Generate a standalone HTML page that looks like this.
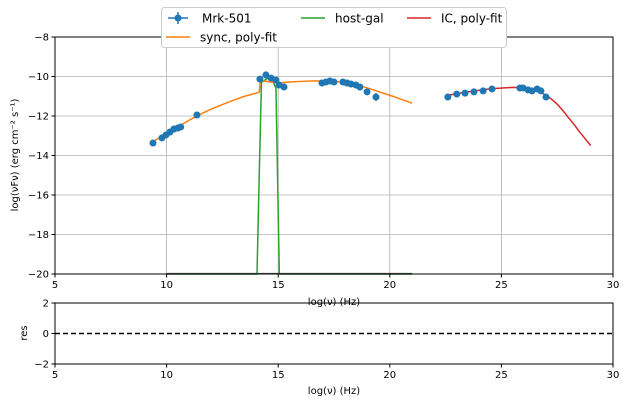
<!DOCTYPE html>
<html><head><meta charset="utf-8"><style>
body{margin:0;background:#fff;font-family:"Liberation Sans","DejaVu Sans",sans-serif}
svg text{font-family:"DejaVu Sans","Liberation Sans",sans-serif;font-size:10px;fill:#000}
</style></head><body>
<svg id="c" width="626" height="405"></svg>
<script>
const dataX=[9.39,9.79,9.97,10.15,10.33,10.5,10.63,11.36,14.18,14.45,14.68,14.9,15.04,15.26,16.96,17.14,17.32,17.5,17.9,18.08,18.26,18.48,18.66,18.98,19.38,22.6,23.0,23.37,23.77,24.18,24.58,25.83,25.97,26.19,26.37,26.6,26.77,27.0];
const dataY=[-13.37,-13.11,-12.96,-12.81,-12.66,-12.61,-12.56,-11.95,-10.13,-9.92,-10.08,-10.18,-10.43,-10.53,-10.33,-10.28,-10.23,-10.28,-10.28,-10.33,-10.38,-10.43,-10.53,-10.78,-11.04,-11.04,-10.89,-10.84,-10.78,-10.73,-10.63,-10.58,-10.58,-10.68,-10.73,-10.63,-10.73,-11.04];
const dataErr=[0.05,0.05,0.05,0.05,0.05,0.05,0.05,0.05,0.05,0.05,0.05,0.05,0.05,0.05,0.05,0.05,0.05,0.05,0.05,0.05,0.05,0.08,0.08,0.1,0.2,0.1,0.05,0.05,0.05,0.05,0.05,0.05,0.05,0.05,0.05,0.05,0.05,0.05];
const syncX=[9.4,9.7,10,10.5,11,11.5,12,12.5,13,13.5,14.15,14.2,15,15.5,16,16.5,17,17.5,18,18.5,19,19.5,20,20.5,21];
const syncY=[-13.3,-13.08,-12.88,-12.55,-12.22,-11.92,-11.65,-11.42,-11.2,-11.0,-10.8,-10.2,-10.33,-10.28,-10.25,-10.23,-10.22,-10.24,-10.3,-10.42,-10.58,-10.77,-10.95,-11.15,-11.35];
const hostX=[10,14.05,14.15,14.25,14.5,14.75,14.9,14.97,15.05,21];
const hostY=[-20,-20,-15,-10.3,-10.1,-10.2,-10.6,-15,-20,-20];
const icX=[22.6,23.5,24.5,25.5,26,26.5,27,27.25,27.5,27.75,28,28.25,28.5,28.75,29];
const icY=[-10.95,-10.78,-10.62,-10.55,-10.57,-10.65,-10.95,-11.15,-11.4,-11.72,-12.08,-12.42,-12.8,-13.15,-13.5];
const xTicks=[5,10,15,20,25,30];
const yTicks=[-8,-10,-12,-14,-16,-18,-20];
const rTicks=[2,0,-2];

const NS="http://www.w3.org/2000/svg",svg=document.getElementById('c');
function el(t,a,p){const e=document.createElementNS(NS,t);for(const k in a)e.setAttribute(k,a[k]);(p||svg).appendChild(e);return e;}
const L=55,R=613,T=37,B=274,RT=303,RB=364;
const sx=x=>L+(x-5)/25*(R-L);
const sy=y=>T+(-8-y)/12*(B-T);
const sr=y=>RT+(2-y)/4*(RB-RT);
for(const t of xTicks){if(t>5&&t<30){const g=el('line',{x1:sx(t),x2:sx(t),y1:T,y2:B,stroke:'#b0b0b0','stroke-width':0.8});}}
for(const t of yTicks){if(t>-20&&t<-8){const g=el('line',{x1:L,x2:R,y1:sy(t),y2:sy(t),stroke:'#b0b0b0','stroke-width':0.8});}}
function line(xs,ys,col,name,w){const p=el('polyline',{points:xs.map((x,i)=>sx(x)+','+sy(ys[i])).join(' '),fill:'none',stroke:col,'stroke-width':w||1.5,'stroke-linejoin':'round'});}
line(hostX,hostY,'#2ca02c','host-gal-line');
line(syncX,syncY,'#ff7f0e','sync-fit-line');
line(icX,icY,'#d62728','ic-fit-line');
el('line',{x1:sx(10),x2:sx(21),y1:B-0.5,y2:B-0.5,stroke:'#555','stroke-width':1.2});
dataX.forEach((x,i)=>{
  const g=el('g',{});
  
  
  el('line',{x1:sx(x),x2:sx(x),y1:sy(dataY[i]+dataErr[i]),y2:sy(dataY[i]-dataErr[i]),stroke:'#1f77b4','stroke-width':1.5},g);
  el('circle',{cx:sx(x),cy:sy(dataY[i]),r:3.5,fill:'#1f77b4'},g);
});
let f=el('rect',{x:L,y:T,width:R-L,height:B-T,fill:'none',stroke:'#000','stroke-width':1});
f=el('rect',{x:L,y:RT,width:R-L,height:RB-RT,fill:'none',stroke:'#000','stroke-width':1});
const z=el('line',{x1:L,x2:R,y1:sr(0),y2:sr(0),stroke:'#000','stroke-width':1.5,'stroke-dasharray':'5,3'});

for(const t of xTicks){
  for(const [yb,lab] of [[B,'x-tick-label'],[RB,'residual-x-tick-label']]){
    el('line',{x1:sx(t),x2:sx(t),y1:yb,y2:yb+3.5,stroke:'#000'});
    const tx=el('text',{x:sx(t),y:yb+14,'text-anchor':'middle'});tx.textContent=t;
    
  }
}
for(const t of yTicks){el('line',{x1:L-3.5,x2:L,y1:sy(t),y2:sy(t),stroke:'#000'});
  const tx=el('text',{x:L-6,y:sy(t)+3.5,'text-anchor':'end'});tx.textContent='\u2212'+(-t);
  }
for(const t of rTicks){el('line',{x1:L-3.5,x2:L,y1:sr(t),y2:sr(t),stroke:'#000'});
  const tx=el('text',{x:L-6,y:sr(t)+3.5,'text-anchor':'end'});tx.textContent=t<0?'\u2212'+(-t):t;
  }
let t=el('text',{x:334,y:305,'text-anchor':'middle'});t.textContent='log(\u03bd)  (Hz)';
t=el('text',{x:334,y:394,'text-anchor':'middle'});t.textContent='log(\u03bd)  (Hz)';
t=el('text',{x:0,y:0,transform:'translate(18,155) rotate(-90)','text-anchor':'middle'});t.textContent='log(\u03bdF\u03bd)  (erg cm\u207b\u00b2  s\u207b\u00b9)';
t=el('text',{x:0,y:0,transform:'translate(27,333) rotate(-90)','text-anchor':'middle'});t.textContent='res';
const lg=el('g',{});
el('rect',{x:161.5,y:7.5,width:345,height:40,rx:3,fill:'#fff',stroke:'#ccc'},lg);
function entry(x,y,col,label,pt){const g=el('g',{},lg);
  if(pt){el('line',{x1:x+10,x2:x+10,y1:y-6,y2:y+6,stroke:col,'stroke-width':1.5},g);el('line',{x1:x,x2:x+20,y1:y,y2:y,stroke:col,'stroke-width':1.5},g);el('circle',{cx:x+10,cy:y,r:3.5,fill:col},g);}
  else el('line',{x1:x,x2:x+24,y1:y,y2:y,stroke:col,'stroke-width':1.5},g);
  const tx=el('text',{x:x+34,y:y+4.5,style:'font-size:12px'},g);tx.textContent=label;}
entry(168,18,'#1f77b4','Mrk-501',true);
entry(166,37,'#ff7f0e','sync, poly-fit');
entry(301,18,'#2ca02c','host-gal');
entry(407,18,'#d62728','IC, poly-fit');
</script></body></html>
